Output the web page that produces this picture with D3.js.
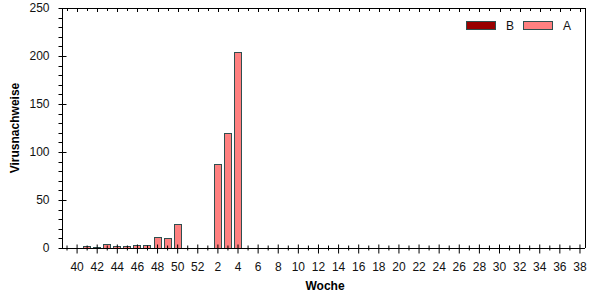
<!DOCTYPE html>
<html lang="de">
  <head>
    <meta charset="UTF-8">
    <title>Virusnachweise</title>
    <style>
      body { margin: 0; background: #fff; }
      text { font-family: Arial, "Liberation Sans", sans-serif; }
      .tick-label { font-size: 12px; fill: #111; }
      .axis-title { font-size: 12px; font-weight: bold; fill: #000; }
      .frame { stroke: #000; stroke-width: 1; fill: none; }
    </style>
  </head>
  <body>
    <svg id="chart" width="602" height="300"></svg>

    <script src="https://cdn.jsdelivr.net/npm/d3@7/dist/d3.min.js"></script>
    <script>
      // Kalenderwochen (39 bis 52, dann 1 bis 39)
      var weeks = d3.range(39, 53).concat(d3.range(1, 40)).map(String);

      // Werte fuer Serie A (nur die ersten Wochen haben Daten)
      var valuesA = [0, 0, 2, 1, 4, 2, 2, 3, 3, 11, 10, 25, 0, 0, 0, 87, 120, 204];
      // Serie B hat keine sichtbaren Werte
      var valuesB = [];

      var yTicks = [0, 50, 100, 150, 200, 250];
      var seriesNames = ["B", "A"];
      var seriesColors = ["#990000", "#ff8080"];

      var svg = d3.select("#chart");

      var plotLeft = 62, plotRight = 585, plotTop = 8, plotBottom = 248;

      var x = d3.scaleBand()
        .domain(weeks)
        .range([plotLeft, plotRight]);

      var y = d3.scaleLinear()
        .domain([0, 250])
        .range([plotBottom, plotTop]);

      function cx(d) { return Math.round(x(d) + x.bandwidth() / 2) + 0.5; }

      // Rahmen
      svg.append("line").attr("class", "frame")
        .attr("x1", plotLeft).attr("x2", plotRight + 0.5).attr("y1", plotTop + 0.5).attr("y2", plotTop + 0.5);
      svg.append("line").attr("class", "frame")
        .attr("x1", plotRight + 0.5).attr("x2", plotRight + 0.5).attr("y1", plotTop).attr("y2", plotBottom);

      // Balken
      var barW = 7;
      var barData = valuesA.map(function(v, i) { return { week: weeks[i], value: v }; })
        .filter(function(d) { return d.value > 0; });

      svg.selectAll(".bar")
        .data(barData)
        .enter()
        .append("rect")
        .attr("class", "bar")
        .attr("x", function(d) { return cx(d.week) - 4; })
        .attr("y", function(d) { return Math.round(y(d.value)) + 0.5; })
        .attr("width", barW)
        .attr("height", function(d) { return Math.round(plotBottom - y(d.value)); })
        .attr("fill", seriesColors[1])
        .attr("stroke", "#2f4f4f")
        .attr("stroke-width", 1);

      // X-Achse
      var xAxis = d3.axisBottom(x)
        .tickSize(0)
        .tickFormat(function(d) { return (+d % 2 === 0) ? d : ""; });

      var gx = svg.append("g")
        .attr("transform", "translate(0," + (plotBottom + 0.5) + ")")
        .call(xAxis);
      gx.select(".domain").attr("d", "M" + plotLeft + ",0H" + plotRight).attr("stroke", "#000");
      gx.selectAll(".tick text")
        .attr("class", "tick-label")
        .attr("dy", null)
        .attr("y", 22)
        .attr("font-size", null)
        .attr("font-family", null);
      gx.selectAll(".tick").append("line")
        .attr("stroke", "#000")
        .attr("y1", function(d) { return +d % 2 === 0 ? -4 : -3; })
        .attr("y2", function(d) { return +d % 2 === 0 ? 5 : 2; });

      // Ticks oben
      svg.append("g")
        .selectAll("line")
        .data(weeks)
        .enter()
        .append("line")
        .attr("stroke", "#000")
        .attr("x1", cx)
        .attr("x2", cx)
        .attr("y1", plotTop)
        .attr("y2", function(d) { return plotTop + (+d % 2 === 0 ? 4 : 3); });

      // Y-Achse
      var yAxis = d3.axisLeft(y)
        .tickValues(yTicks)
        .tickSize(0)
        .tickPadding(13);

      var gy = svg.append("g")
        .attr("transform", "translate(" + (plotLeft + 0.5) + ",0)")
        .call(yAxis);
      gy.select(".domain").attr("d", "M0," + plotTop + "V" + plotBottom).attr("stroke", "#000");
      gy.selectAll(".tick text")
        .attr("class", "tick-label")
        .attr("font-size", null)
        .attr("font-family", null);

      // Haupt- und Nebenstriche der Y-Achse
      gy.append("g")
        .selectAll("line")
        .data(d3.range(0, 251, 10))
        .enter()
        .append("line")
        .attr("stroke", "#000")
        .attr("x1", -4)
        .attr("x2", function(d) { return d % 50 === 0 ? 4 : 0; })
        .attr("y1", function(d) { return Math.round(y(d)) + 0.5; })
        .attr("y2", function(d) { return Math.round(y(d)) + 0.5; });

      // Achsentitel
      svg.append("text")
        .attr("class", "axis-title")
        .attr("text-anchor", "middle")
        .attr("transform", "translate(19," + ((plotTop + plotBottom) / 2) + ") rotate(-90)")
        .text("Virusnachweise");

      svg.append("text")
        .attr("class", "axis-title")
        .attr("text-anchor", "middle")
        .attr("x", 325)
        .attr("y", 290)
        .text("Woche");

      // Legende
      var legendX = [466, 523];
      var legend = svg.append("g")
        .selectAll("g")
        .data(seriesNames)
        .enter()
        .append("g")
        .attr("transform", function(d, i) { return "translate(" + legendX[i] + ",21)"; });

      legend.append("rect")
        .attr("x", 0.5)
        .attr("y", 0.5)
        .attr("width", 29)
        .attr("height", 8)
        .attr("fill", function(d, i) { return seriesColors[i]; })
        .attr("stroke", "#2f4f4f");

      legend.append("text")
        .attr("class", "tick-label")
        .attr("x", 40)
        .attr("y", 9)
        .text(function(d) { return d; });
    </script>
  </body>
</html>
